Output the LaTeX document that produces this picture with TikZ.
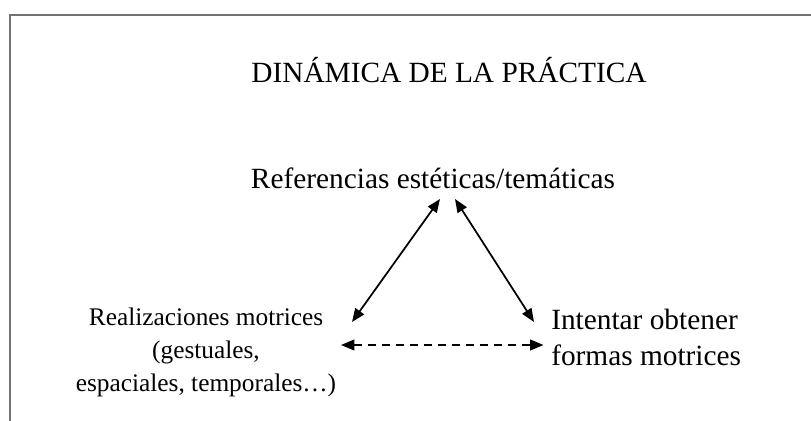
\documentclass[tikz,border=0pt]{standalone}
\usepackage{fontspec}
\setmainfont{Liberation Serif}
\usetikzlibrary{arrows.meta}
\tikzset{
  frameline/.style={draw=black!55, line width=1.3pt},
  bigtext/.style={font=\fontsize{22}{26.8}\selectfont, inner sep=0pt},
  smalltext/.style={font=\fontsize{19}{24.75}\selectfont, inner sep=0pt},
  link/.style={line width=1.3pt, {Triangle[length=10pt,width=8pt]}-{Triangle[length=10pt,width=8pt]}},
  dashlink/.style={link, dash pattern=on 6pt off 4.5pt}
}
\begin{document}
\begin{tikzpicture}[x=0.75pt, y=-0.75pt]
\useasboundingbox (0,0) rectangle (811,421);
% frame
\coordinate (fTR) at (811,15);
\coordinate (fTL) at (10,15);
\coordinate (fBL) at (10,421);
\draw[frameline] (fTR) -- (fTL) -- (fBL);
% texts
\node[bigtext, anchor=base] (title) at (449,82) {DINÁMICA DE LA PRÁCTICA};
\node[bigtext, anchor=base] (ref) at (433,188) {Referencias estéticas/temáticas};
\node[smalltext, anchor=base, align=center] (real) at (206,391.7) {Realizaciones motrices\\(gestuales,\\espaciales, temporales…)};
\node[bigtext, anchor=base west, align=left] (intent) at (551,365) {Intentar obtener\\formas motrices};
% arrow ends
\coordinate (refL) at (440,199);
\coordinate (refR) at (455,199);
\coordinate (realTop) at (352,322);
\coordinate (realMid) at (341,345);
\coordinate (intTop) at (534,322);
\coordinate (intMid) at (543.5,345);
\draw[link] (realTop) -- (refL);
\draw[link] (refR) -- (intTop);
\draw[dashlink] (realMid) -- (intMid);
\end{tikzpicture}
\end{document}
